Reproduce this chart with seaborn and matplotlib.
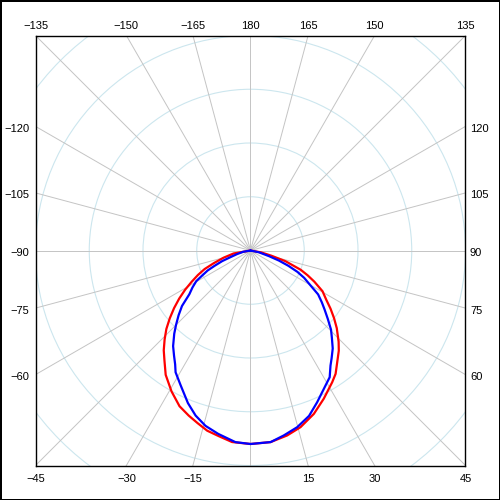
import numpy as np
import pandas as pd
import matplotlib
matplotlib.use("Agg")
import matplotlib.pyplot as plt
from matplotlib.patches import Circle
import seaborn as sns

# ---- data (angle in degrees, 0 = down, positive to the right; radius normalised) ----
red_theta = [-90, -80, -75, -71, -68, -65, -62, -59, -56, -53, -50, -47, -44, -41,
             -38, -34.3, -29.3, -24.5, -20.5, -17, -13.5, -9.7, -5.5, 0,
             6, 11.2, 15.8, 21.2, 26.3, 31.8, 34.6, 37.8, 41.4, 44, 48, 51, 54,
             57, 60.5, 64, 66.5, 69, 73, 76, 80, 90]
red_r = [0, 0.08, 0.13, 0.18, 0.23, 0.27, 0.31, 0.355, 0.40, 0.445, 0.49, 0.535,
         0.575, 0.615, 0.65, 0.70, 0.751, 0.796, 0.82, 0.84, 0.862, 0.876, 0.895, 0.90,
         0.896, 0.877, 0.854, 0.815, 0.769, 0.721, 0.697, 0.658, 0.621, 0.59, 0.54,
         0.50, 0.46, 0.42, 0.385, 0.33, 0.29, 0.25, 0.17, 0.10, 0.05, 0]

blue_theta = [-90, -80, -75, -71.5, -69.5, -67, -65, -62.5, -60.5, -57.5, -54.4, -51,
              -48, -45, -42.5, -39, -36, -33.5, -31.6, -27.5, -22.3, -18.4, -14.4,
              -10, -4.5, 0,
              6, 10.2, 14.8, 19.5, 23.7, 29.1, 32, 34.8, 37, 40, 43, 45.5, 48.5,
              51.5, 54, 57, 60, 63, 65.5, 68, 70.5, 73, 78, 90]
blue_r = [0, 0.035, 0.065, 0.10, 0.14, 0.18, 0.22, 0.255, 0.29, 0.32, 0.35, 0.41,
          0.45, 0.49, 0.525, 0.572, 0.605, 0.635, 0.665, 0.705, 0.767, 0.809, 0.842,
          0.866, 0.894, 0.90,
          0.896, 0.874, 0.850, 0.816, 0.771, 0.718, 0.695, 0.652, 0.627, 0.595,
          0.555, 0.525, 0.48, 0.44, 0.41, 0.375, 0.32, 0.28, 0.24, 0.19, 0.14,
          0.09, 0.04, 0]

spoke_angles = list(range(-180, 180, 15))
ring_radii = [0.25, 0.5, 0.75, 1.0, 1.25]
label_angles = [-135, -150, -165, 180, 165, 150, 135,
                -120, -105, -90, -75, -60,
                120, 105, 90, 75, 60,
                -45, -30, -15, 15, 30, 45]


def to_xy(theta_deg, r):
    t = np.radians(np.asarray(theta_deg, dtype=float))
    r = np.asarray(r, dtype=float)
    return r * np.sin(t), -r * np.cos(t)


rx, ry = to_xy(red_theta, red_r)
bx, by = to_xy(blue_theta, blue_r)
df = pd.concat([
    pd.DataFrame({"x": rx, "y": ry, "series": "red"}),
    pd.DataFrame({"x": bx, "y": by, "series": "blue"}),
], ignore_index=True)

sns.set_style("white")
plt.rcParams["font.family"] = ["Liberation Sans", "DejaVu Sans"]
plt.rcParams["text.color"] = "black"

fig = plt.figure(figsize=(5, 5), dpi=100)
fig.patch.set_facecolor("white")
fig.patch.set_edgecolor("black")
fig.patch.set_linewidth(2)

ax = fig.add_axes([35.5 / 500, 34.5 / 500, 430 / 500, 430 / 500])
ax.set_xlim(-1, 1)
ax.set_ylim(-1, 1)
ax.set_aspect("equal")
ax.set_xticks([])
ax.set_yticks([])
for s in ax.spines.values():
    s.set_visible(True)
    s.set_color("black")
    s.set_linewidth(1.0)

# rings
for rr in ring_radii:
    ax.add_patch(Circle((0, 0), rr, fill=False, ec="#cce6ee", lw=0.8, zorder=1))

# spokes
for a in spoke_angles:
    ex, ey = to_xy([a], [2.0])
    ax.plot([0, ex[0]], [0, ey[0]], color="#c4c4c4", lw=0.7, zorder=1)

# curves
sns.lineplot(data=df, x="x", y="y", hue="series", sort=False, estimator=None,
             palette={"red": "#ff0000", "blue": "#0000ff"},
             lw=1.6, legend=False, ax=ax, zorder=3)
ax.set_xlabel("")
ax.set_ylabel("")

# angle labels
fs = 8
for a in label_angles:
    t = np.radians(a)
    sx, sy = np.sin(t), -np.cos(t)
    k = 1.0 / max(abs(sx), abs(sy))
    px, py = sx * k, sy * k
    txt = str(a).replace("-", "\u2212")
    kw = dict(textcoords="offset points", fontsize=fs, color="black",
              annotation_clip=False, va="baseline")
    if abs(a) >= 135:
        ax.annotate(txt, (px, 1), xytext=(0, 4.7), ha="center", **kw)
    elif abs(a) <= 45:
        ax.annotate(txt, (px, -1), xytext=(0, -11.7), ha="center", **kw)
    elif a < 0:
        ax.annotate(txt, (-1, py), xytext=(-4.5, -4.0), ha="right", **kw)
    else:
        ax.annotate(txt, (1, py), xytext=(3.2, -4.0), ha="left", **kw)

fig.savefig("out.png", dpi=100)
